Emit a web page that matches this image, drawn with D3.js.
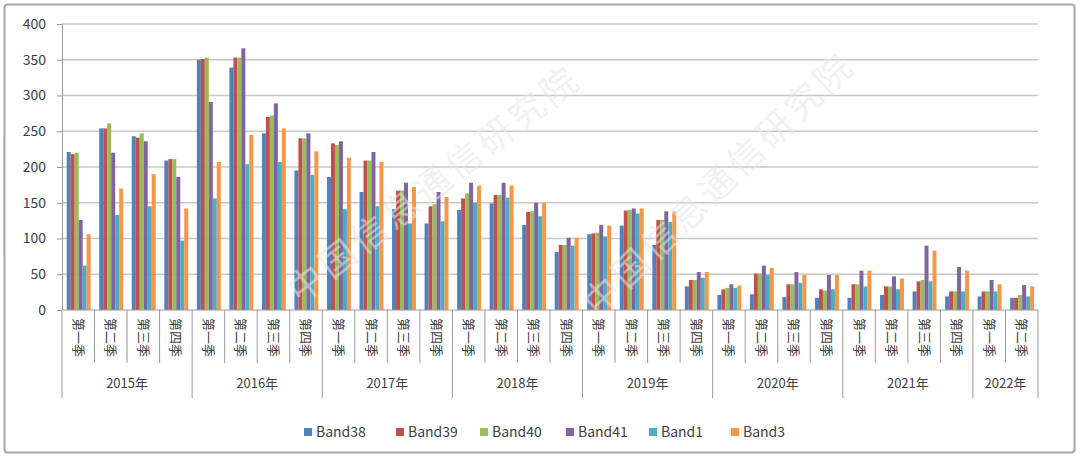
<!DOCTYPE html>
<html>
<head>
<meta charset="utf-8">
<script src="https://cdn.jsdelivr.net/npm/d3@7"></script>
<style>
  body { margin: 0; background: #fff; }
  svg text { font-family: "Noto Sans CJK SC", "Open Sans", sans-serif; fill: #404040; }
</style>
</head>
<body>
<div id="chart"></div>
<script>
var years = ["2015年", "2016年", "2017年", "2018年", "2019年", "2020年", "2021年", "2022年"];
var quartersPerYear = [4, 4, 4, 4, 4, 4, 4, 2];
var quarterNames = ["第一季", "第二季", "第三季", "第四季"];
var seriesNames = ["Band38", "Band39", "Band40", "Band41", "Band1", "Band3"];
var colors = ["#4F81BD", "#C0504D", "#9BBB59", "#8064A2", "#4BACC6", "#F79646"];
var yTicks = [0, 50, 100, 150, 200, 250, 300, 350, 400];

var band38 = [221, 254, 243, 209, 350, 339, 247, 195, 186, 165, 141, 121, 140, 149, 119, 81, 106, 118, 91, 33, 21, 22, 18, 17, 17, 21, 26, 19, 19, 17];
var band39 = [218, 254, 241, 211, 351, 353, 270, 240, 233, 209, 167, 145, 156, 161, 137, 91, 107, 139, 126, 42, 29, 51, 36, 29, 36, 33, 40, 26, 26, 17];
var band40 = [220, 261, 247, 211, 353, 353, 272, 240, 231, 209, 167, 148, 163, 161, 138, 91, 108, 140, 126, 42, 31, 51, 36, 27, 36, 33, 42, 26, 26, 21];
var band41 = [126, 220, 236, 186, 291, 366, 289, 247, 236, 221, 178, 165, 178, 178, 150, 101, 119, 142, 138, 53, 36, 62, 53, 49, 55, 47, 90, 60, 42, 35];
var band1 = [62, 133, 145, 97, 156, 204, 207, 189, 141, 145, 121, 124, 150, 157, 131, 90, 103, 135, 123, 45, 31, 49, 38, 29, 33, 29, 40, 26, 26, 19];
var band3 = [106, 170, 190, 142, 207, 245, 254, 222, 213, 207, 172, 158, 174, 174, 150, 101, 118, 142, 138, 53, 34, 59, 49, 49, 55, 44, 83, 55, 36, 33];

var seriesValues = [band38, band39, band40, band41, band1, band3];

// build category list (year + quarter)
var categories = [];
years.forEach(function (y, yi) {
    for (var q = 0; q < quartersPerYear[yi]; q++) {
        categories.push({ year: y, quarter: quarterNames[q], key: y + q });
    }
});

var width = 1080, height = 458;
var margin = { left: 62, right: 42, top: 24, bottom: 148 };
var plotW = width - margin.left - margin.right;
var plotH = height - margin.top - margin.bottom;

var svg = d3.select("#chart").append("svg")
    .attr("width", width)
    .attr("height", height);

// outer frame
svg.append("rect")
    .attr("x", 4.5).attr("y", 4.5)
    .attr("width", 1070).attr("height", 448)
    .attr("rx", 3)
    .attr("fill", "#fff")
    .attr("stroke", "#a6a6a6")
    .attr("stroke-width", 2);

var g = svg.append("g")
    .attr("transform", "translate(" + margin.left + "," + margin.top + ")");

var x0 = d3.scaleBand()
    .domain(categories.map(function (d) { return d.key; }))
    .range([0, plotW]);

var x1 = d3.scaleBand()
    .domain(seriesNames)
    .range([x0.bandwidth() * 0.145, x0.bandwidth() * 0.88]);

var y = d3.scaleLinear()
    .domain([0, 400])
    .range([plotH, 0]);

// gridlines
g.selectAll(".grid")
    .data(yTicks.slice(1))
    .enter()
    .append("line")
    .attr("x1", 0).attr("x2", plotW)
    .attr("y1", function (d) { return y(d); })
    .attr("y2", function (d) { return y(d); })
    .attr("stroke", "#c8c8c8")
    .attr("stroke-width", 1.5);

// y axis
var yAxis = g.append("g")
    .call(d3.axisLeft(y).tickValues(yTicks).tickSize(5).tickPadding(11));
yAxis.select(".domain").attr("stroke", "#999");
yAxis.selectAll(".tick line").attr("stroke", "#999");
yAxis.selectAll(".tick text")
    .style("font-size", "14px")
    .attr("fill", "#404040");

// bars
seriesNames.forEach(function (s, si) {
    g.selectAll(".bar-" + s)
        .data(seriesValues[si])
        .enter()
        .append("rect")
        .attr("class", "bar-" + s)
        .attr("x", function (d, i) { return x0(categories[i].key) + x1(s); })
        .attr("width", x1.bandwidth())
        .attr("y", function (d) { return y(d); })
        .attr("height", function (d) { return plotH - y(d); })
        .attr("fill", colors[si]);
});

// x axis line
g.append("line")
    .attr("x1", 0).attr("x2", plotW)
    .attr("y1", plotH).attr("y2", plotH)
    .attr("stroke", "#999");

// quarter separators + year separators
var sepData = [];
var idx = 0;
years.forEach(function (yName, yi) {
    for (var q = 0; q < quartersPerYear[yi]; q++) {
        sepData.push({ pos: idx, isYear: q === 0 });
        idx++;
    }
});
sepData.push({ pos: idx, isYear: true });

g.selectAll(".sep")
    .data(sepData)
    .enter()
    .append("line")
    .attr("x1", function (d) { return d.pos * x0.step(); })
    .attr("x2", function (d) { return d.pos * x0.step(); })
    .attr("y1", plotH)
    .attr("y2", function (d) { return d.isYear ? plotH + 88 : plotH + 53; })
    .attr("stroke", "#999");

// quarter labels rotated
g.selectAll(".qlabel")
    .data(categories)
    .enter()
    .append("text")
    .attr("transform", function (d) {
        return "translate(" + (x0(d.key) + x0.bandwidth() / 2) + "," + (plotH + 8) + ") rotate(90)";
    })
    .attr("dy", "0.35em")
    .style("font-size", "13px")
    .text(function (d) { return d.quarter; });

// year labels
var start = 0;
var yearPos = years.map(function (yName, yi) {
    var s = start;
    start += quartersPerYear[yi];
    return { name: yName, mid: (s + start) / 2 };
});
g.selectAll(".ylabel")
    .data(yearPos)
    .enter()
    .append("text")
    .attr("x", function (d) { return d.mid * x0.step(); })
    .attr("y", plotH + 78)
    .attr("text-anchor", "middle")
    .style("font-size", "13px")
    .text(function (d) { return d.name; });

// legend
var legendX = [304, 396, 480, 566, 649, 731];
var legend = svg.selectAll(".legend")
    .data(seriesNames)
    .enter()
    .append("g")
    .attr("class", "legend")
    .attr("transform", function (d, i) { return "translate(" + legendX[i] + ",432)"; });

legend.append("rect")
    .attr("x", 0).attr("y", -4)
    .attr("width", 8).attr("height", 8)
    .attr("fill", function (d, i) { return colors[i]; });

legend.append("text")
    .attr("x", 12)
    .attr("dy", "0.35em")
    .style("font-size", "14px")
    .text(function (d) { return d; });

// watermark
var marks = [
    { x: 300, y: 305, a: -38, t: "中国信息通信研究院" },
    { x: 598, y: 318, a: -44, t: "中国信息通信研究院" }
];
svg.selectAll(".wm")
    .data(marks)
    .enter()
    .append("text")
    .attr("transform", function (d) { return "translate(" + d.x + "," + d.y + ") rotate(" + d.a + ")"; })
    .style("font-size", "36px")
    .style("fill", "#e6e6e6")
    .style("opacity", 0.55)
    .style("letter-spacing", "4px")
    .text(function (d) { return d.t; });
</script>
</body>
</html>
